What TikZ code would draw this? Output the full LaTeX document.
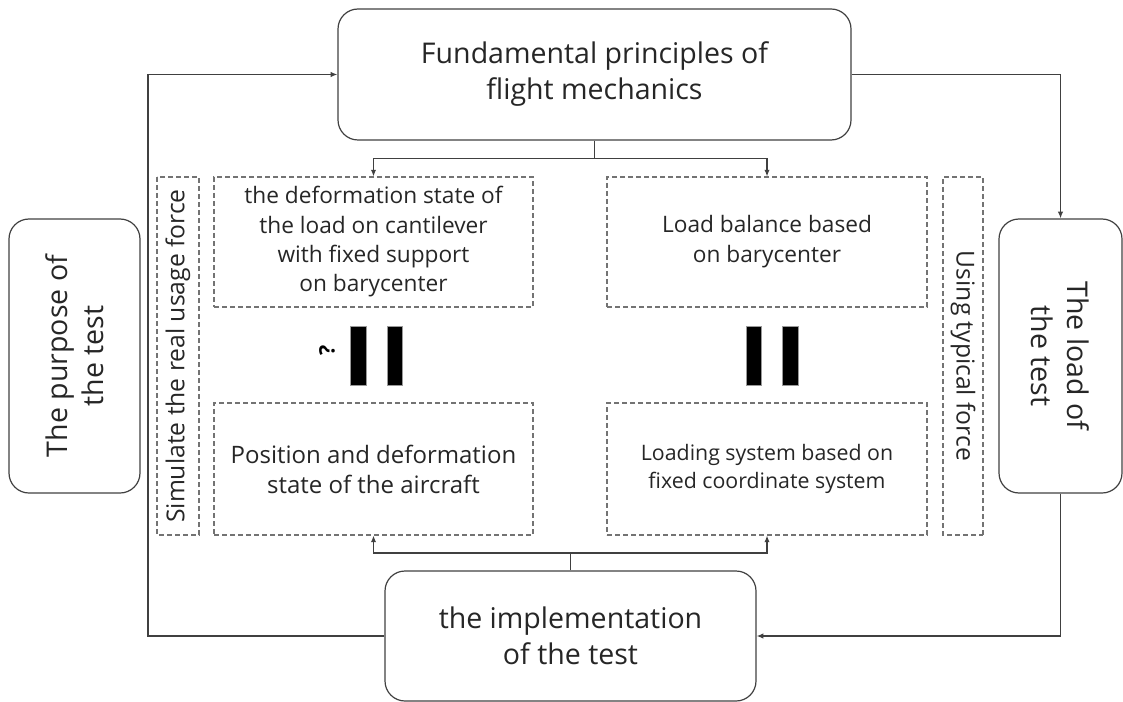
\documentclass[tikz,border=0pt]{standalone}
\usepackage{fontspec}
\setmainfont{Open Sans}
\usetikzlibrary{arrows.meta,positioning,calc}

\begin{document}
\begin{tikzpicture}[x=0.75pt,y=-0.75pt,
    line/.style={draw=black!75, line width=0.9pt},
    arr/.style={line, -{Latex[length=5pt,width=4pt]}},
    mainbox/.style={draw=black!75, line width=0.9pt, rounded corners=15pt, align=center, inner sep=0pt, text=black!85, font=\fontsize{21.4}{27}\selectfont},
    dashbox/.style={draw=black!55, line width=0.8pt, dash pattern=on 3.5pt off 2.5pt, align=center, inner sep=0pt, text=black!85},
    bar/.style={draw=black!40, fill=black, line width=0.5pt}]
    \useasboundingbox (0,0) rectangle (1123,702);

    % main boxes
    \node[mainbox, minimum width=384.75pt, minimum height=98.25pt] (flight) at (594.5,74.5) {Fundamental principles of\\flight mechanics};
    \node[mainbox, rotate=90, minimum width=205.5pt, minimum height=98.25pt] (purpose) at (74.5,356) {The purpose of\\the test};
    \node[mainbox, rotate=-90, minimum width=205.5pt, minimum height=92.25pt] (load) at (1060.5,356) {The load of\\the test};
    \node[mainbox, minimum width=278.25pt, minimum height=97.5pt] (impl) at (570.5,636) {the implementation\\of the test};

    % dashed boxes
    \node[dashbox, minimum width=239.25pt, minimum height=97.5pt, font=\fontsize{17}{22}\selectfont] (deform) at (373.5,242) {the deformation state of\\the load on cantilever\\with fixed support\\on barycenter};
    \node[dashbox, minimum width=240pt, minimum height=97.5pt, font=\fontsize{17}{22.5}\selectfont] (balance) at (767,242) {Load balance based\\on barycenter};
    \node[dashbox, minimum width=239.25pt, minimum height=99pt, font=\fontsize{18}{22.5}\selectfont] (position) at (373.5,469) {Position and deformation\\state of the aircraft};
    \node[dashbox, minimum width=240pt, minimum height=99pt, font=\fontsize{16}{21.5}\selectfont] (loading) at (767,469) {Loading system based on\\fixed coordinate system};
    \node[dashbox, rotate=90, minimum width=268.5pt, minimum height=31.5pt, font=\fontsize{18.5}{22}\selectfont] (simulate) at (178,356) {Simulate the real usage force};
    \node[dashbox, rotate=-90, minimum width=268.5pt, minimum height=30pt, font=\fontsize{18.5}{22}\selectfont] (typical) at (963,356) {Using typical force};

    % the two (turned) equal signs
    \draw[bar] (350,326) rectangle (366,385);
    \draw[bar] (387,326) rectangle (402,385);
    \node[rotate=90, font=\fontsize{16}{16}\bfseries\selectfont] (query) at (327,350) {?};
    \draw[bar] (746,326) rectangle (761,385);
    \draw[bar] (782,326) rectangle (798,385);

    % branches
    \coordinate (topjoin) at (594.5,158.7);
    \draw[line] (flight.south) -- (topjoin);
    \draw[arr] (topjoin) -| (deform.north);
    \draw[arr] (topjoin) -| (balance.north);

    \coordinate (botjoin) at (570.5,553);
    \draw[line] (impl.north) -- (botjoin);
    \draw[arr] (botjoin) -| (position.south);
    \draw[arr] (botjoin) -| (loading.south);

    % outer loop (load is turned: its west side is on top)
    \coordinate (loopx) at (148,356);
    \draw[arr] (flight.east) -| (load.west);
    \draw[arr] (load.east) |- (impl.east);
    \draw[arr] (impl.west) -- (impl.west -| loopx) |- (flight.west);
\end{tikzpicture}
\end{document}
